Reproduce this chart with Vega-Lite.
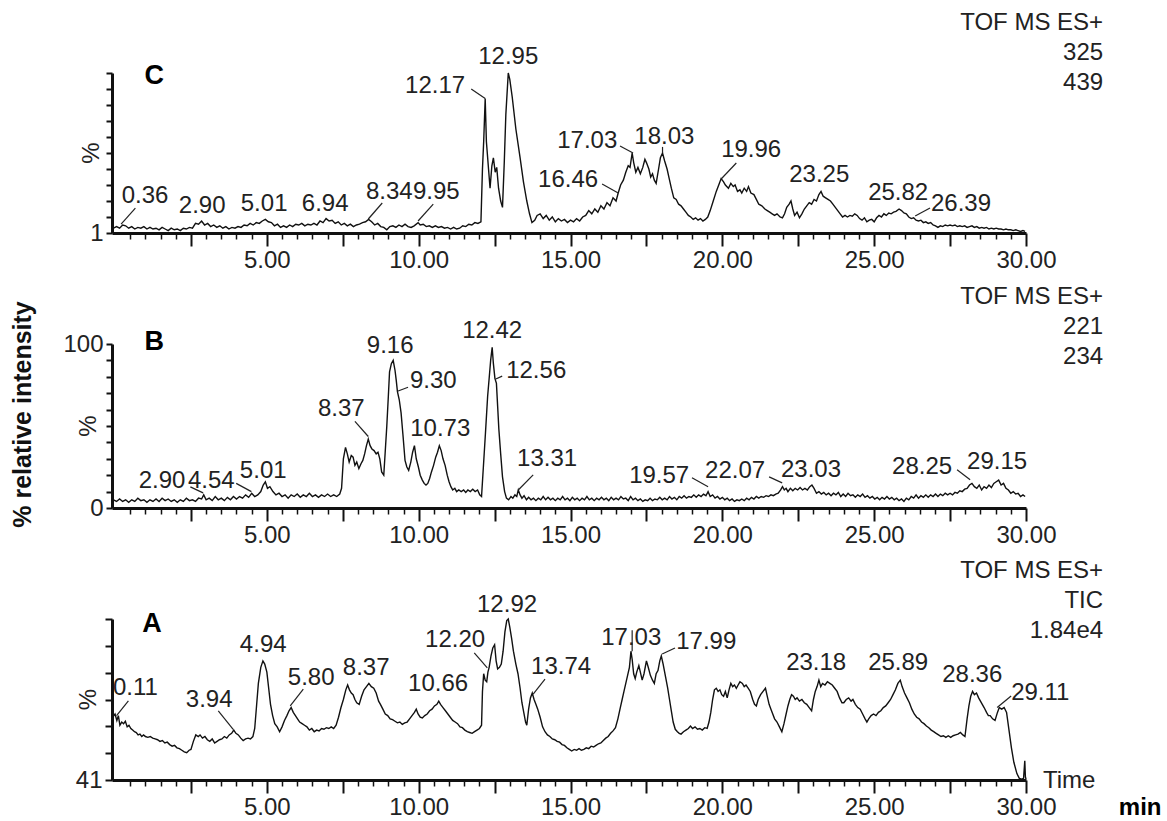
{
  "$schema": "https://vega.github.io/schema/vega-lite/v6.json",
  "description": "Chromatograms C, B, A (TOF MS ES+), % relative intensity vs time (min)",
  "background": "white",
  "padding": {"left": 10, "top": 11, "right": 0, "bottom": 0},
  "datasets": {
    "C": [
      {"t":-0.05,"v":3},{"t":0.05,"v":4},{"t":0.15,"v":3},{"t":0.25,"v":5},{"t":0.35,"v":4.5},{"t":0.45,"v":3},{"t":0.55,"v":4},{"t":0.65,"v":2.5},{"t":0.75,"v":3.5},{"t":0.85,"v":3},{"t":0.95,"v":4},{"t":1.05,"v":2.5},{"t":1.15,"v":3.5},{"t":1.25,"v":2.5},{"t":1.35,"v":3},{"t":1.45,"v":2},{"t":1.55,"v":3.5},{"t":1.65,"v":2.5},{"t":1.75,"v":1.5},{"t":1.85,"v":3},{"t":1.95,"v":2},{"t":2.05,"v":2.5},{"t":2.15,"v":1.5},{"t":2.25,"v":3},{"t":2.35,"v":2.5},{"t":2.45,"v":3.5},{"t":2.55,"v":3},{"t":2.65,"v":6},{"t":2.75,"v":5.5},{"t":2.85,"v":7.5},{"t":2.95,"v":5},{"t":3.05,"v":6},{"t":3.15,"v":4},{"t":3.25,"v":5},{"t":3.35,"v":3.5},{"t":3.45,"v":4.5},{"t":3.55,"v":3},{"t":3.65,"v":4},{"t":3.75,"v":2.5},{"t":3.85,"v":3.5},{"t":3.95,"v":3},{"t":4.05,"v":4},{"t":4.15,"v":3.5},{"t":4.25,"v":5},{"t":4.35,"v":4.5},{"t":4.45,"v":6},{"t":4.55,"v":5},{"t":4.65,"v":6.5},{"t":4.75,"v":6},{"t":4.85,"v":7.5},{"t":4.95,"v":8.5},{"t":5.05,"v":7},{"t":5.15,"v":6.5},{"t":5.25,"v":4.5},{"t":5.35,"v":5.5},{"t":5.45,"v":3.5},{"t":5.55,"v":4.5},{"t":5.65,"v":3.5},{"t":5.75,"v":5},{"t":5.85,"v":4},{"t":5.95,"v":5.5},{"t":6.05,"v":5},{"t":6.15,"v":6},{"t":6.25,"v":4.5},{"t":6.35,"v":5.5},{"t":6.45,"v":5},{"t":6.55,"v":6},{"t":6.65,"v":5},{"t":6.75,"v":7.5},{"t":6.85,"v":6.5},{"t":6.95,"v":9},{"t":7.05,"v":7.5},{"t":7.15,"v":8},{"t":7.25,"v":6},{"t":7.35,"v":7},{"t":7.45,"v":5},{"t":7.55,"v":6},{"t":7.65,"v":4.5},{"t":7.75,"v":5.5},{"t":7.85,"v":4},{"t":7.95,"v":5},{"t":8.05,"v":5.5},{"t":8.15,"v":6.5},{"t":8.25,"v":7},{"t":8.35,"v":8.5},{"t":8.45,"v":7},{"t":8.55,"v":5},{"t":8.65,"v":6},{"t":8.75,"v":4},{"t":8.85,"v":3.5},{"t":8.95,"v":2},{"t":9.05,"v":4},{"t":9.15,"v":4.5},{"t":9.25,"v":3.5},{"t":9.35,"v":5},{"t":9.45,"v":4},{"t":9.55,"v":5.5},{"t":9.65,"v":4},{"t":9.75,"v":3.5},{"t":9.85,"v":4.5},{"t":9.98,"v":6.5},{"t":10.05,"v":5},{"t":10.15,"v":5.5},{"t":10.25,"v":4},{"t":10.35,"v":4.5},{"t":10.45,"v":3.5},{"t":10.55,"v":4.5},{"t":10.65,"v":3.5},{"t":10.75,"v":4},{"t":10.85,"v":3},{"t":10.95,"v":3.5},{"t":11.05,"v":2.5},{"t":11.15,"v":3.5},{"t":11.25,"v":2.5},{"t":11.35,"v":3},{"t":11.45,"v":4.5},{"t":11.55,"v":4},{"t":11.65,"v":5.5},{"t":11.75,"v":5},{"t":11.85,"v":6.5},{"t":11.95,"v":6},{"t":12.05,"v":7},{"t":12.1,"v":40},{"t":12.14,"v":57},{"t":12.19,"v":84},{"t":12.23,"v":57},{"t":12.3,"v":40},{"t":12.35,"v":28},{"t":12.41,"v":42},{"t":12.46,"v":47},{"t":12.52,"v":38},{"t":12.57,"v":41},{"t":12.63,"v":28},{"t":12.7,"v":20},{"t":12.76,"v":16},{"t":12.82,"v":45},{"t":12.87,"v":74},{"t":12.95,"v":100},{"t":13.0,"v":96},{"t":13.08,"v":85},{"t":13.2,"v":65},{"t":13.34,"v":47},{"t":13.45,"v":32},{"t":13.56,"v":20},{"t":13.65,"v":12},{"t":13.73,"v":6.5},{"t":13.82,"v":8},{"t":13.9,"v":11},{"t":14.0,"v":12},{"t":14.1,"v":9},{"t":14.2,"v":11},{"t":14.3,"v":8},{"t":14.4,"v":10},{"t":14.5,"v":7},{"t":14.6,"v":9},{"t":14.7,"v":7.5},{"t":14.8,"v":8.5},{"t":14.9,"v":6.5},{"t":15.0,"v":8},{"t":15.1,"v":7},{"t":15.2,"v":9},{"t":15.3,"v":7.5},{"t":15.4,"v":10},{"t":15.5,"v":11},{"t":15.6,"v":14},{"t":15.7,"v":12},{"t":15.8,"v":15},{"t":15.9,"v":13},{"t":16.0,"v":17},{"t":16.1,"v":15},{"t":16.2,"v":19},{"t":16.3,"v":17},{"t":16.4,"v":22},{"t":16.5,"v":20},{"t":16.57,"v":25},{"t":16.65,"v":30},{"t":16.74,"v":33},{"t":16.82,"v":38},{"t":16.9,"v":42},{"t":16.96,"v":41},{"t":17.03,"v":50},{"t":17.08,"v":44},{"t":17.15,"v":38},{"t":17.22,"v":41},{"t":17.3,"v":37},{"t":17.38,"v":41},{"t":17.45,"v":46},{"t":17.5,"v":44},{"t":17.58,"v":40},{"t":17.64,"v":35},{"t":17.7,"v":37},{"t":17.76,"v":33},{"t":17.82,"v":31},{"t":17.9,"v":40},{"t":17.96,"v":47},{"t":18.03,"v":50},{"t":18.1,"v":45},{"t":18.18,"v":40},{"t":18.25,"v":34},{"t":18.32,"v":28},{"t":18.4,"v":22},{"t":18.48,"v":21},{"t":18.56,"v":18},{"t":18.64,"v":17},{"t":18.72,"v":15},{"t":18.8,"v":13},{"t":18.88,"v":11},{"t":18.96,"v":10},{"t":19.04,"v":8.5},{"t":19.12,"v":9.5},{"t":19.2,"v":8},{"t":19.28,"v":9},{"t":19.36,"v":7.5},{"t":19.44,"v":8.5},{"t":19.52,"v":10},{"t":19.6,"v":14},{"t":19.7,"v":20},{"t":19.8,"v":26},{"t":19.9,"v":31},{"t":19.96,"v":34},{"t":20.04,"v":32},{"t":20.1,"v":30},{"t":20.2,"v":28},{"t":20.28,"v":31},{"t":20.36,"v":29},{"t":20.42,"v":30},{"t":20.5,"v":26},{"t":20.58,"v":27},{"t":20.64,"v":25},{"t":20.72,"v":28},{"t":20.8,"v":26},{"t":20.86,"v":29},{"t":20.94,"v":25},{"t":21.04,"v":24},{"t":21.12,"v":21},{"t":21.2,"v":18},{"t":21.3,"v":17},{"t":21.4,"v":15},{"t":21.48,"v":14},{"t":21.56,"v":13},{"t":21.64,"v":12},{"t":21.72,"v":11},{"t":21.8,"v":12},{"t":21.9,"v":10},{"t":21.98,"v":9.5},{"t":22.05,"v":12},{"t":22.12,"v":16},{"t":22.2,"v":18},{"t":22.26,"v":20},{"t":22.32,"v":15},{"t":22.38,"v":11},{"t":22.46,"v":13},{"t":22.54,"v":9.5},{"t":22.62,"v":12},{"t":22.7,"v":15},{"t":22.78,"v":17},{"t":22.86,"v":19},{"t":22.94,"v":18},{"t":23.02,"v":21},{"t":23.1,"v":20},{"t":23.18,"v":24},{"t":23.25,"v":26},{"t":23.32,"v":23},{"t":23.4,"v":22},{"t":23.48,"v":21},{"t":23.56,"v":20},{"t":23.64,"v":18},{"t":23.72,"v":16},{"t":23.8,"v":14},{"t":23.88,"v":12},{"t":23.96,"v":10},{"t":24.04,"v":11},{"t":24.12,"v":10},{"t":24.2,"v":11},{"t":24.28,"v":10.5},{"t":24.36,"v":12},{"t":24.44,"v":11},{"t":24.52,"v":9},{"t":24.6,"v":8},{"t":24.68,"v":9.5},{"t":24.76,"v":7},{"t":24.84,"v":8},{"t":24.92,"v":8.5},{"t":25.0,"v":7},{"t":25.08,"v":9.5},{"t":25.16,"v":11},{"t":25.24,"v":10},{"t":25.32,"v":12},{"t":25.4,"v":11},{"t":25.48,"v":12.5},{"t":25.56,"v":12},{"t":25.64,"v":13},{"t":25.72,"v":13.5},{"t":25.82,"v":15},{"t":25.9,"v":14},{"t":25.98,"v":12.5},{"t":26.06,"v":12},{"t":26.14,"v":10},{"t":26.22,"v":9},{"t":26.3,"v":9.5},{"t":26.38,"v":8},{"t":26.46,"v":7.5},{"t":26.54,"v":8},{"t":26.62,"v":6.5},{"t":26.7,"v":7},{"t":26.78,"v":6},{"t":26.86,"v":6.5},{"t":26.94,"v":5},{"t":27.02,"v":4.5},{"t":27.1,"v":3.5},{"t":27.18,"v":4.5},{"t":27.26,"v":4},{"t":27.34,"v":5},{"t":27.42,"v":4.5},{"t":27.5,"v":5},{"t":27.58,"v":4.5},{"t":27.66,"v":5},{"t":27.74,"v":4},{"t":27.82,"v":4.5},{"t":27.9,"v":4},{"t":27.98,"v":4.5},{"t":28.06,"v":3.5},{"t":28.14,"v":4},{"t":28.22,"v":4.5},{"t":28.3,"v":3.5},{"t":28.38,"v":4},{"t":28.46,"v":3},{"t":28.54,"v":3.5},{"t":28.62,"v":3},{"t":28.7,"v":3.5},{"t":28.78,"v":2.5},{"t":28.86,"v":3},{"t":28.94,"v":2.5},{"t":29.02,"v":3},{"t":29.1,"v":2.5},{"t":29.18,"v":2.5},{"t":29.26,"v":2},{"t":29.34,"v":2.5},{"t":29.42,"v":2},{"t":29.5,"v":2},{"t":29.58,"v":1.5},{"t":29.66,"v":2},{"t":29.74,"v":1.5},{"t":29.82,"v":1},{"t":29.9,"v":1.5},{"t":29.97,"v":1}
    ],
    "B": [
      {"t":-0.05,"v":5},{"t":0.05,"v":4},{"t":0.15,"v":5.5},{"t":0.25,"v":4},{"t":0.35,"v":5},{"t":0.45,"v":3.5},{"t":0.55,"v":5},{"t":0.65,"v":4},{"t":0.75,"v":6},{"t":0.85,"v":4.5},{"t":0.95,"v":5},{"t":1.05,"v":3.5},{"t":1.15,"v":5},{"t":1.25,"v":4},{"t":1.35,"v":5.5},{"t":1.45,"v":4},{"t":1.55,"v":6},{"t":1.65,"v":4.5},{"t":1.75,"v":5.5},{"t":1.85,"v":4},{"t":1.95,"v":5},{"t":2.05,"v":3.5},{"t":2.15,"v":5},{"t":2.25,"v":4},{"t":2.35,"v":6},{"t":2.45,"v":4.5},{"t":2.55,"v":5},{"t":2.65,"v":4},{"t":2.75,"v":6},{"t":2.85,"v":5.5},{"t":2.92,"v":8},{"t":3.0,"v":5},{"t":3.1,"v":6},{"t":3.2,"v":4.5},{"t":3.3,"v":7},{"t":3.4,"v":5},{"t":3.5,"v":6},{"t":3.6,"v":4.5},{"t":3.7,"v":6.5},{"t":3.8,"v":5},{"t":3.9,"v":7},{"t":4.0,"v":5.5},{"t":4.1,"v":7},{"t":4.2,"v":6},{"t":4.3,"v":8},{"t":4.4,"v":6.5},{"t":4.5,"v":9},{"t":4.6,"v":7},{"t":4.7,"v":8},{"t":4.8,"v":10},{"t":4.88,"v":14},{"t":4.95,"v":16},{"t":5.02,"v":12},{"t":5.1,"v":13},{"t":5.2,"v":10},{"t":5.3,"v":8},{"t":5.4,"v":9},{"t":5.5,"v":7},{"t":5.6,"v":8},{"t":5.7,"v":6},{"t":5.8,"v":8},{"t":5.9,"v":7},{"t":6.0,"v":8.5},{"t":6.1,"v":6.5},{"t":6.2,"v":8},{"t":6.3,"v":7},{"t":6.4,"v":9},{"t":6.5,"v":7},{"t":6.6,"v":8},{"t":6.7,"v":6.5},{"t":6.8,"v":8},{"t":6.9,"v":7},{"t":7.0,"v":8.5},{"t":7.1,"v":7},{"t":7.2,"v":8},{"t":7.3,"v":7},{"t":7.4,"v":8.5},{"t":7.46,"v":12},{"t":7.52,"v":30},{"t":7.59,"v":37},{"t":7.65,"v":33},{"t":7.71,"v":28},{"t":7.78,"v":32},{"t":7.84,"v":31},{"t":7.9,"v":26},{"t":7.96,"v":28},{"t":8.03,"v":24},{"t":8.1,"v":27},{"t":8.16,"v":29},{"t":8.22,"v":33},{"t":8.28,"v":38},{"t":8.34,"v":42},{"t":8.4,"v":38},{"t":8.46,"v":36},{"t":8.53,"v":35},{"t":8.6,"v":33},{"t":8.66,"v":34},{"t":8.72,"v":30},{"t":8.78,"v":22},{"t":8.85,"v":20},{"t":8.9,"v":35},{"t":8.95,"v":50},{"t":9.0,"v":68},{"t":9.04,"v":83},{"t":9.1,"v":88},{"t":9.16,"v":90},{"t":9.22,"v":84},{"t":9.26,"v":78},{"t":9.3,"v":71},{"t":9.36,"v":66},{"t":9.42,"v":58},{"t":9.48,"v":45},{"t":9.55,"v":29},{"t":9.61,"v":25},{"t":9.67,"v":23},{"t":9.74,"v":28},{"t":9.8,"v":34},{"t":9.86,"v":38},{"t":9.92,"v":30},{"t":9.99,"v":25},{"t":10.05,"v":20},{"t":10.12,"v":17},{"t":10.18,"v":15},{"t":10.24,"v":14},{"t":10.3,"v":15},{"t":10.36,"v":18},{"t":10.42,"v":22},{"t":10.49,"v":26},{"t":10.56,"v":31},{"t":10.62,"v":34},{"t":10.68,"v":38},{"t":10.74,"v":35},{"t":10.8,"v":30},{"t":10.87,"v":26},{"t":10.94,"v":20},{"t":11.0,"v":16},{"t":11.06,"v":13},{"t":11.12,"v":11},{"t":11.19,"v":12},{"t":11.25,"v":10},{"t":11.32,"v":11},{"t":11.4,"v":10},{"t":11.48,"v":11},{"t":11.55,"v":9.5},{"t":11.62,"v":11},{"t":11.7,"v":10},{"t":11.78,"v":11.5},{"t":11.86,"v":10},{"t":11.94,"v":11},{"t":12.01,"v":8},{"t":12.07,"v":7},{"t":12.13,"v":25},{"t":12.2,"v":46},{"t":12.27,"v":68},{"t":12.32,"v":79},{"t":12.37,"v":90},{"t":12.42,"v":98},{"t":12.46,"v":88},{"t":12.51,"v":79},{"t":12.56,"v":76},{"t":12.6,"v":62},{"t":12.64,"v":48},{"t":12.7,"v":33},{"t":12.76,"v":19},{"t":12.83,"v":10},{"t":12.89,"v":6},{"t":12.96,"v":5},{"t":13.04,"v":7},{"t":13.1,"v":6},{"t":13.17,"v":8},{"t":13.23,"v":7},{"t":13.28,"v":11},{"t":13.34,"v":8},{"t":13.4,"v":6},{"t":13.47,"v":7.5},{"t":13.55,"v":5},{"t":13.62,"v":6.5},{"t":13.7,"v":5},{"t":13.78,"v":6},{"t":13.86,"v":4.5},{"t":13.94,"v":6},{"t":14.02,"v":5},{"t":14.1,"v":7},{"t":14.18,"v":5},{"t":14.26,"v":6.5},{"t":14.34,"v":5},{"t":14.42,"v":6},{"t":14.5,"v":4.5},{"t":14.58,"v":6},{"t":14.66,"v":5},{"t":14.74,"v":7},{"t":14.82,"v":5},{"t":14.9,"v":6},{"t":14.98,"v":4.5},{"t":15.06,"v":6.5},{"t":15.14,"v":5},{"t":15.22,"v":6},{"t":15.3,"v":4.5},{"t":15.38,"v":6},{"t":15.46,"v":5},{"t":15.54,"v":7},{"t":15.62,"v":5},{"t":15.7,"v":6},{"t":15.78,"v":4.5},{"t":15.86,"v":6},{"t":15.94,"v":5},{"t":16.02,"v":6.5},{"t":16.1,"v":5},{"t":16.18,"v":6},{"t":16.26,"v":4.5},{"t":16.34,"v":6.5},{"t":16.42,"v":5},{"t":16.5,"v":6},{"t":16.58,"v":5},{"t":16.66,"v":7},{"t":16.74,"v":5.5},{"t":16.82,"v":6},{"t":16.9,"v":4.5},{"t":16.98,"v":7},{"t":17.06,"v":5},{"t":17.14,"v":6},{"t":17.22,"v":4.5},{"t":17.3,"v":5.5},{"t":17.38,"v":4},{"t":17.46,"v":5},{"t":17.54,"v":4.5},{"t":17.62,"v":6},{"t":17.7,"v":4.5},{"t":17.78,"v":5.5},{"t":17.86,"v":5},{"t":17.94,"v":6.5},{"t":18.02,"v":5},{"t":18.1,"v":6},{"t":18.18,"v":5},{"t":18.26,"v":7},{"t":18.34,"v":5.5},{"t":18.42,"v":6.5},{"t":18.5,"v":5},{"t":18.58,"v":7},{"t":18.66,"v":6},{"t":18.74,"v":7.5},{"t":18.82,"v":6},{"t":18.9,"v":7},{"t":18.98,"v":6.5},{"t":19.06,"v":8},{"t":19.14,"v":6.5},{"t":19.22,"v":8},{"t":19.3,"v":7},{"t":19.38,"v":8.5},{"t":19.46,"v":7.5},{"t":19.53,"v":10},{"t":19.6,"v":7},{"t":19.68,"v":8},{"t":19.76,"v":6},{"t":19.84,"v":7},{"t":19.92,"v":5.5},{"t":20.0,"v":6.5},{"t":20.08,"v":5},{"t":20.16,"v":6},{"t":20.24,"v":4.5},{"t":20.32,"v":5.5},{"t":20.4,"v":4},{"t":20.48,"v":5},{"t":20.56,"v":4.5},{"t":20.64,"v":5.5},{"t":20.72,"v":4.5},{"t":20.8,"v":6},{"t":20.88,"v":5},{"t":20.96,"v":6.5},{"t":21.04,"v":5.5},{"t":21.12,"v":7},{"t":21.2,"v":6},{"t":21.28,"v":7},{"t":21.36,"v":6.5},{"t":21.44,"v":7.5},{"t":21.52,"v":7},{"t":21.6,"v":8},{"t":21.68,"v":7.5},{"t":21.76,"v":8.5},{"t":21.84,"v":9},{"t":21.92,"v":11},{"t":21.98,"v":13},{"t":22.04,"v":11},{"t":22.1,"v":12},{"t":22.16,"v":10},{"t":22.24,"v":12},{"t":22.32,"v":10.5},{"t":22.4,"v":12},{"t":22.48,"v":11},{"t":22.56,"v":12.5},{"t":22.64,"v":11},{"t":22.72,"v":12},{"t":22.8,"v":11},{"t":22.88,"v":13},{"t":22.95,"v":14},{"t":23.02,"v":12},{"t":23.1,"v":9},{"t":23.18,"v":10},{"t":23.26,"v":8.5},{"t":23.34,"v":9.5},{"t":23.42,"v":8},{"t":23.5,"v":9},{"t":23.58,"v":7.5},{"t":23.66,"v":9},{"t":23.74,"v":8},{"t":23.82,"v":9.5},{"t":23.9,"v":7},{"t":23.98,"v":8.5},{"t":24.06,"v":7},{"t":24.14,"v":9},{"t":24.22,"v":7.5},{"t":24.3,"v":8},{"t":24.38,"v":6.5},{"t":24.46,"v":8},{"t":24.54,"v":7},{"t":24.62,"v":8.5},{"t":24.7,"v":6.5},{"t":24.78,"v":7.5},{"t":24.86,"v":6},{"t":24.94,"v":7},{"t":25.02,"v":5.5},{"t":25.1,"v":6.5},{"t":25.18,"v":5},{"t":25.26,"v":6.5},{"t":25.34,"v":5.5},{"t":25.42,"v":7},{"t":25.5,"v":5.5},{"t":25.58,"v":6.5},{"t":25.66,"v":5},{"t":25.74,"v":6},{"t":25.82,"v":4.5},{"t":25.9,"v":5.5},{"t":25.98,"v":4},{"t":26.06,"v":6},{"t":26.14,"v":5},{"t":26.22,"v":7},{"t":26.3,"v":6},{"t":26.38,"v":8},{"t":26.46,"v":6},{"t":26.54,"v":7.5},{"t":26.62,"v":6.5},{"t":26.7,"v":8},{"t":26.78,"v":6.5},{"t":26.86,"v":8},{"t":26.94,"v":7},{"t":27.02,"v":8.5},{"t":27.1,"v":7},{"t":27.18,"v":8.5},{"t":27.26,"v":7.5},{"t":27.34,"v":9},{"t":27.42,"v":8},{"t":27.5,"v":9},{"t":27.58,"v":8},{"t":27.66,"v":9.5},{"t":27.74,"v":9},{"t":27.82,"v":10.5},{"t":27.9,"v":10},{"t":27.98,"v":11.5},{"t":28.06,"v":12},{"t":28.14,"v":14},{"t":28.22,"v":15},{"t":28.3,"v":13},{"t":28.38,"v":12},{"t":28.46,"v":14},{"t":28.54,"v":11},{"t":28.62,"v":13},{"t":28.7,"v":12},{"t":28.78,"v":14},{"t":28.86,"v":12.5},{"t":28.94,"v":15},{"t":29.02,"v":16},{"t":29.1,"v":17},{"t":29.18,"v":14},{"t":29.26,"v":15},{"t":29.34,"v":12},{"t":29.42,"v":11},{"t":29.5,"v":9},{"t":29.58,"v":10},{"t":29.66,"v":8.5},{"t":29.74,"v":9},{"t":29.82,"v":7},{"t":29.9,"v":8},{"t":29.97,"v":7}
    ],
    "A": [
      {"t":-0.08,"v":39},{"t":0.0,"v":41},{"t":0.06,"v":37},{"t":0.11,"v":40},{"t":0.16,"v":34},{"t":0.22,"v":36},{"t":0.28,"v":35},{"t":0.34,"v":36.5},{"t":0.4,"v":33},{"t":0.46,"v":34},{"t":0.52,"v":32},{"t":0.58,"v":31},{"t":0.64,"v":30},{"t":0.7,"v":29.5},{"t":0.76,"v":28},{"t":0.82,"v":28.5},{"t":0.88,"v":27},{"t":0.94,"v":28},{"t":1.0,"v":27},{"t":1.08,"v":26.5},{"t":1.16,"v":27},{"t":1.24,"v":26},{"t":1.32,"v":25.5},{"t":1.4,"v":25},{"t":1.48,"v":24},{"t":1.56,"v":24.5},{"t":1.64,"v":23},{"t":1.72,"v":23.5},{"t":1.8,"v":22},{"t":1.88,"v":21},{"t":1.96,"v":21.5},{"t":2.04,"v":20},{"t":2.12,"v":19.5},{"t":2.2,"v":18.5},{"t":2.28,"v":17.5},{"t":2.36,"v":17},{"t":2.44,"v":18.5},{"t":2.5,"v":19},{"t":2.58,"v":24},{"t":2.66,"v":28},{"t":2.74,"v":27},{"t":2.8,"v":28},{"t":2.88,"v":26},{"t":2.96,"v":27},{"t":3.04,"v":25},{"t":3.12,"v":24},{"t":3.2,"v":25.5},{"t":3.28,"v":23},{"t":3.36,"v":24},{"t":3.44,"v":25},{"t":3.52,"v":25.5},{"t":3.6,"v":27},{"t":3.68,"v":26},{"t":3.76,"v":28},{"t":3.84,"v":29},{"t":3.91,"v":31},{"t":3.98,"v":29},{"t":4.06,"v":28},{"t":4.14,"v":26},{"t":4.22,"v":24.5},{"t":4.3,"v":25.5},{"t":4.38,"v":26},{"t":4.46,"v":25.5},{"t":4.54,"v":27},{"t":4.6,"v":32},{"t":4.66,"v":46},{"t":4.72,"v":60},{"t":4.8,"v":70},{"t":4.87,"v":74},{"t":4.93,"v":72},{"t":5.0,"v":67},{"t":5.06,"v":57},{"t":5.12,"v":47},{"t":5.19,"v":40},{"t":5.26,"v":35},{"t":5.34,"v":33},{"t":5.42,"v":30},{"t":5.5,"v":33},{"t":5.58,"v":37},{"t":5.66,"v":40},{"t":5.73,"v":43},{"t":5.8,"v":45},{"t":5.87,"v":42},{"t":5.94,"v":40},{"t":6.01,"v":38},{"t":6.08,"v":36},{"t":6.16,"v":35},{"t":6.24,"v":34},{"t":6.32,"v":33},{"t":6.4,"v":31},{"t":6.48,"v":32},{"t":6.56,"v":30},{"t":6.64,"v":31},{"t":6.72,"v":30.5},{"t":6.8,"v":32},{"t":6.88,"v":31.5},{"t":6.96,"v":32.5},{"t":7.04,"v":32},{"t":7.12,"v":33},{"t":7.2,"v":32},{"t":7.28,"v":34},{"t":7.36,"v":39},{"t":7.44,"v":45},{"t":7.52,"v":50},{"t":7.6,"v":56},{"t":7.66,"v":59},{"t":7.72,"v":56},{"t":7.78,"v":54},{"t":7.84,"v":53},{"t":7.9,"v":50},{"t":7.96,"v":48},{"t":8.04,"v":47},{"t":8.12,"v":52},{"t":8.2,"v":56},{"t":8.28,"v":58},{"t":8.36,"v":60},{"t":8.44,"v":58},{"t":8.52,"v":57},{"t":8.6,"v":54},{"t":8.68,"v":49},{"t":8.74,"v":47},{"t":8.82,"v":44},{"t":8.9,"v":41},{"t":8.98,"v":40},{"t":9.06,"v":38},{"t":9.14,"v":37.5},{"t":9.22,"v":36.5},{"t":9.3,"v":35.5},{"t":9.38,"v":36},{"t":9.46,"v":34.5},{"t":9.54,"v":35.5},{"t":9.62,"v":36},{"t":9.7,"v":38},{"t":9.78,"v":40},{"t":9.86,"v":42},{"t":9.92,"v":44},{"t":9.98,"v":41},{"t":10.05,"v":39},{"t":10.12,"v":38.5},{"t":10.2,"v":40},{"t":10.28,"v":41},{"t":10.36,"v":43},{"t":10.44,"v":44},{"t":10.52,"v":46},{"t":10.6,"v":47},{"t":10.66,"v":49},{"t":10.72,"v":47},{"t":10.8,"v":45},{"t":10.88,"v":43},{"t":10.96,"v":41},{"t":11.04,"v":39},{"t":11.12,"v":37},{"t":11.2,"v":36},{"t":11.28,"v":35},{"t":11.36,"v":33},{"t":11.44,"v":32.5},{"t":11.52,"v":31},{"t":11.6,"v":30},{"t":11.68,"v":29.5},{"t":11.76,"v":29},{"t":11.84,"v":30},{"t":11.92,"v":31},{"t":12.0,"v":32},{"t":12.07,"v":34},{"t":12.1,"v":55},{"t":12.14,"v":66},{"t":12.19,"v":62},{"t":12.24,"v":61},{"t":12.28,"v":67},{"t":12.32,"v":70},{"t":12.38,"v":77},{"t":12.44,"v":82},{"t":12.5,"v":84},{"t":12.55,"v":74},{"t":12.6,"v":69},{"t":12.66,"v":70},{"t":12.72,"v":72},{"t":12.78,"v":80},{"t":12.84,"v":92},{"t":12.9,"v":99},{"t":12.95,"v":100},{"t":13.0,"v":95},{"t":13.06,"v":88},{"t":13.12,"v":80},{"t":13.2,"v":72},{"t":13.27,"v":66},{"t":13.34,"v":57},{"t":13.4,"v":48},{"t":13.46,"v":42},{"t":13.52,"v":36},{"t":13.56,"v":34},{"t":13.62,"v":44},{"t":13.68,"v":51},{"t":13.74,"v":54},{"t":13.8,"v":50},{"t":13.86,"v":47},{"t":13.92,"v":44},{"t":14.0,"v":39},{"t":14.08,"v":33},{"t":14.16,"v":30},{"t":14.24,"v":28},{"t":14.32,"v":27},{"t":14.4,"v":25.5},{"t":14.48,"v":25},{"t":14.56,"v":24},{"t":14.64,"v":23.5},{"t":14.72,"v":22},{"t":14.8,"v":21.5},{"t":14.88,"v":20},{"t":14.96,"v":19},{"t":15.04,"v":18},{"t":15.12,"v":19},{"t":15.2,"v":18.5},{"t":15.28,"v":19.5},{"t":15.36,"v":18.5},{"t":15.44,"v":19},{"t":15.52,"v":20},{"t":15.6,"v":19.5},{"t":15.68,"v":21},{"t":15.76,"v":20.5},{"t":15.84,"v":21.5},{"t":15.92,"v":22.5},{"t":16.0,"v":23},{"t":16.08,"v":24.5},{"t":16.16,"v":26},{"t":16.24,"v":27},{"t":16.32,"v":29},{"t":16.4,"v":30.5},{"t":16.48,"v":32.5},{"t":16.56,"v":38},{"t":16.64,"v":45},{"t":16.7,"v":50},{"t":16.76,"v":55},{"t":16.82,"v":60},{"t":16.88,"v":65},{"t":16.94,"v":70},{"t":16.99,"v":80},{"t":17.03,"v":75},{"t":17.08,"v":66},{"t":17.13,"v":63},{"t":17.18,"v":67},{"t":17.25,"v":71},{"t":17.3,"v":67},{"t":17.36,"v":62},{"t":17.42,"v":66},{"t":17.5,"v":74},{"t":17.56,"v":70},{"t":17.63,"v":65},{"t":17.7,"v":62},{"t":17.76,"v":60},{"t":17.82,"v":66},{"t":17.88,"v":68},{"t":17.94,"v":74},{"t":17.99,"v":77},{"t":18.05,"v":72},{"t":18.13,"v":64},{"t":18.2,"v":57},{"t":18.26,"v":50},{"t":18.32,"v":43},{"t":18.38,"v":36},{"t":18.45,"v":31.5},{"t":18.52,"v":30},{"t":18.58,"v":29},{"t":18.64,"v":28.5},{"t":18.72,"v":30},{"t":18.8,"v":31},{"t":18.88,"v":32},{"t":18.95,"v":33.5},{"t":19.02,"v":32},{"t":19.1,"v":33},{"t":19.18,"v":31.5},{"t":19.26,"v":32},{"t":19.34,"v":31},{"t":19.42,"v":32.5},{"t":19.5,"v":32},{"t":19.56,"v":36},{"t":19.62,"v":42},{"t":19.68,"v":50},{"t":19.74,"v":56},{"t":19.8,"v":57},{"t":19.86,"v":55},{"t":19.92,"v":56},{"t":19.98,"v":53},{"t":20.04,"v":52},{"t":20.1,"v":55},{"t":20.16,"v":51},{"t":20.22,"v":56},{"t":20.28,"v":60},{"t":20.34,"v":58},{"t":20.4,"v":59},{"t":20.46,"v":57},{"t":20.52,"v":59},{"t":20.58,"v":61},{"t":20.66,"v":60},{"t":20.72,"v":58},{"t":20.78,"v":59},{"t":20.85,"v":57},{"t":20.92,"v":55},{"t":21.0,"v":50},{"t":21.06,"v":47},{"t":21.12,"v":46},{"t":21.18,"v":50},{"t":21.26,"v":53},{"t":21.34,"v":55},{"t":21.42,"v":57},{"t":21.48,"v":52},{"t":21.54,"v":47},{"t":21.6,"v":44},{"t":21.66,"v":41},{"t":21.72,"v":38},{"t":21.8,"v":36},{"t":21.88,"v":33},{"t":21.96,"v":30},{"t":22.03,"v":35},{"t":22.1,"v":41},{"t":22.16,"v":46},{"t":22.22,"v":50},{"t":22.28,"v":53},{"t":22.34,"v":52},{"t":22.4,"v":50},{"t":22.46,"v":51},{"t":22.54,"v":49},{"t":22.62,"v":50},{"t":22.7,"v":48},{"t":22.78,"v":47},{"t":22.86,"v":45},{"t":22.94,"v":43},{"t":23.0,"v":50},{"t":23.06,"v":55},{"t":23.12,"v":58},{"t":23.18,"v":62},{"t":23.24,"v":58},{"t":23.3,"v":60},{"t":23.38,"v":59},{"t":23.46,"v":61},{"t":23.54,"v":60},{"t":23.62,"v":59},{"t":23.7,"v":57},{"t":23.78,"v":55},{"t":23.86,"v":51},{"t":23.94,"v":48},{"t":24.0,"v":48},{"t":24.08,"v":50},{"t":24.16,"v":51},{"t":24.24,"v":49},{"t":24.3,"v":50},{"t":24.38,"v":47},{"t":24.46,"v":45},{"t":24.54,"v":44},{"t":24.62,"v":41},{"t":24.7,"v":38},{"t":24.76,"v":36},{"t":24.82,"v":38},{"t":24.9,"v":40},{"t":24.98,"v":41},{"t":25.06,"v":40},{"t":25.14,"v":42},{"t":25.22,"v":43},{"t":25.3,"v":45},{"t":25.38,"v":46},{"t":25.46,"v":48},{"t":25.54,"v":50},{"t":25.62,"v":53},{"t":25.7,"v":56},{"t":25.78,"v":60},{"t":25.86,"v":62},{"t":25.92,"v":58},{"t":26.0,"v":54},{"t":26.08,"v":51},{"t":26.16,"v":48},{"t":26.24,"v":44},{"t":26.32,"v":41},{"t":26.4,"v":39},{"t":26.48,"v":38},{"t":26.56,"v":36},{"t":26.64,"v":35},{"t":26.72,"v":33.5},{"t":26.8,"v":32.5},{"t":26.88,"v":31},{"t":26.96,"v":30},{"t":27.04,"v":29},{"t":27.12,"v":28},{"t":27.2,"v":27},{"t":27.28,"v":27.5},{"t":27.36,"v":26.5},{"t":27.44,"v":27.5},{"t":27.52,"v":26.5},{"t":27.6,"v":27.5},{"t":27.68,"v":28},{"t":27.76,"v":28.5},{"t":27.84,"v":29.5},{"t":27.92,"v":28},{"t":27.99,"v":27},{"t":28.06,"v":38},{"t":28.12,"v":46},{"t":28.18,"v":52},{"t":28.24,"v":55},{"t":28.3,"v":53},{"t":28.37,"v":54},{"t":28.44,"v":51},{"t":28.5,"v":49},{"t":28.56,"v":47},{"t":28.62,"v":45},{"t":28.7,"v":42},{"t":28.76,"v":40},{"t":28.82,"v":40},{"t":28.9,"v":38},{"t":28.98,"v":37},{"t":29.06,"v":42},{"t":29.12,"v":45},{"t":29.2,"v":44},{"t":29.28,"v":45},{"t":29.36,"v":42},{"t":29.44,"v":31},{"t":29.52,"v":20},{"t":29.6,"v":11},{"t":29.7,"v":4},{"t":29.78,"v":1},{"t":29.86,"v":0.5},{"t":29.92,"v":1},{"t":29.96,"v":12},{"t":29.98,"v":2},{"t":30.0,"v":0.5}
    ],
    "labC": [
      {"label":"0.36","t":0.99,"v":23.1},{"label":"2.90","t":2.87,"v":16.9},{"label":"5.01","t":4.91,"v":18.1},{"label":"6.94","t":6.92,"v":18.1},{"label":"8.34","t":9.03,"v":25.6},{"label":"9.95","t":10.58,"v":25.6},{"label":"12.17","t":10.54,"v":91.9},{"label":"12.95","t":12.95,"v":110},{"label":"16.46","t":14.92,"v":33.1},{"label":"17.03","t":15.55,"v":57.5},{"label":"18.03","t":18.09,"v":60},{"label":"19.96","t":20.95,"v":51.9},{"label":"23.25","t":23.19,"v":36.3},{"label":"25.82","t":25.79,"v":25},{"label":"26.39","t":27.86,"v":18.1}
    ],
    "ldC": [
      {"t":0.2,"v":5.6,"t2":0.67,"v2":15.6},{"t":8.34,"v":8.75,"t2":8.8,"v2":18.75},{"t":9.98,"v":7.5,"t2":10.48,"v2":18.1},{"t":12.19,"v":84,"t2":11.73,"v2":90},{"t":16.57,"v":25,"t2":16.04,"v2":30.6},{"t":17.06,"v":50,"t2":16.63,"v2":54.4},{"t":18.03,"v":50,"t2":18.03,"v2":53.8},{"t":19.96,"v":33.75,"t2":20.46,"v2":43.75},{"t":26.35,"v":10.6,"t2":26.84,"v2":15.6}
    ],
    "labB": [
      {"label":"2.90","t":1.55,"v":16.6},{"label":"4.54","t":3.17,"v":16.6},{"label":"5.01","t":4.88,"v":22.7},{"label":"8.37","t":7.45,"v":60.1},{"label":"9.16","t":9.06,"v":98.8},{"label":"9.30","t":10.48,"v":77.3},{"label":"10.73","t":10.71,"v":47.9},{"label":"12.42","t":12.42,"v":108},{"label":"12.56","t":13.87,"v":83.4},{"label":"13.31","t":14.23,"v":30},{"label":"19.57","t":17.92,"v":19.6},{"label":"22.07","t":20.42,"v":22.7},{"label":"23.03","t":22.92,"v":23.3},{"label":"28.25","t":26.58,"v":25.2},{"label":"29.15","t":29.05,"v":28.2}
    ],
    "ldB": [
      {"t":2.9,"v":9.2,"t2":2.48,"v2":12.9},{"t":4.49,"v":10,"t2":3.99,"v2":15},{"t":8.34,"v":43.6,"t2":7.9,"v2":52.8},{"t":9.3,"v":71.2,"t2":9.65,"v2":73.6},{"t":12.52,"v":78.5,"t2":12.75,"v2":80.4},{"t":13.28,"v":11,"t2":13.77,"v2":20.2},{"t":19.53,"v":12.9,"t2":19.0,"v2":18.4},{"t":21.97,"v":15.3,"t2":21.54,"v2":19},{"t":28.16,"v":17.2,"t2":27.73,"v2":23.3}
    ],
    "labA": [
      {"label":"0.11","t":0.67,"v":57.1},{"label":"3.94","t":3.1,"v":49.7},{"label":"4.94","t":4.88,"v":83.9},{"label":"5.80","t":6.46,"v":63.4},{"label":"8.37","t":8.27,"v":69.6},{"label":"10.66","t":10.64,"v":59.6},{"label":"12.20","t":11.2,"v":86.9},{"label":"12.92","t":12.91,"v":108.7},{"label":"13.74","t":14.69,"v":70.2},{"label":"17.03","t":17.0,"v":88.2},{"label":"17.99","t":19.47,"v":85.7},{"label":"23.18","t":23.09,"v":72.7},{"label":"25.89","t":25.79,"v":72.7},{"label":"28.36","t":28.23,"v":65.2},{"label":"29.11","t":30.47,"v":54}
    ],
    "ldA": [
      {"t":0.05,"v":40,"t2":0.44,"v2":49.1},{"t":3.89,"v":31.5,"t2":3.4,"v2":42.9},{"t":5.77,"v":46,"t2":6.2,"v2":56.5},{"t":12.26,"v":69.6,"t2":11.83,"v2":78.9},{"t":13.77,"v":53.4,"t2":14.16,"v2":62.7},{"t":17.03,"v":80,"t2":17.03,"v2":93},{"t":18.02,"v":78.3,"t2":18.44,"v2":82},{"t":29.05,"v":45,"t2":29.51,"v2":52.2}
    ]
  },
  "vconcat": [
    {
      "width": 914,
      "height": 160,
      "layer": [
        {
          "data": {"name": "C"},
          "mark": {"type": "line", "color": "#111", "strokeWidth": 1.4},
          "encoding": {
            "x": {"field": "t", "type": "quantitative", "scale": {"domain": [-0.1, 30], "nice": false, "zero": false},
              "axis": {"orient": "bottom", "title": null, "values": [2.5, 5, 7.5, 10, 12.5, 15, 17.5, 20, 22.5, 25, 27.5, 30], "labelExpr": "datum.value % 5 === 0 ? format(datum.value, '.2f') : ''", "tickSize": 13, "labelPadding": 2, "labelOverlap": false, "labelFlush": false, "labelBound": false}},
            "y": {"field": "v", "type": "quantitative", "scale": {"domain": [0, 100], "nice": false},
              "axis": {"orient": "left", "title": null, "values": [0, 10, 20, 30, 40, 50, 60, 70, 80, 90, 100], "labelExpr": "datum.value === 0 ? '1' : ''", "tickSize": 6, "labelPadding": 3, "labelOverlap": false}}
          }
        },
        {
          "data": {"name": "ldC"},
          "mark": {"type": "rule", "color": "#222", "strokeWidth": 1.2},
          "encoding": {
            "x": {"field": "t", "type": "quantitative", "axis": {"orient": "bottom", "title": null, "values": [0.5, 1, 1.5, 2, 3, 3.5, 4, 4.5, 5.5, 6, 6.5, 7, 8, 8.5, 9, 9.5, 10.5, 11, 11.5, 12, 13, 13.5, 14, 14.5, 15.5, 16, 16.5, 17, 18, 18.5, 19, 19.5, 20.5, 21, 21.5, 22, 23, 23.5, 24, 24.5, 25.5, 26, 26.5, 27, 28, 28.5, 29, 29.5], "tickSize": 6, "tickWidth": 1.5, "labels": false, "domain": false}},
            "y": {"field": "v", "type": "quantitative", "axis": null},
            "x2": {"field": "t2"},
            "y2": {"field": "v2"}
          }
        },
        {
          "data": {"name": "labC"},
          "mark": {"type": "text"},
          "encoding": {
            "x": {"field": "t", "type": "quantitative", "axis": null},
            "y": {"field": "v", "type": "quantitative", "axis": null},
            "text": {"field": "label"}
          }
        },
        {
          "data": {"values": [{}]},
          "mark": {"type": "text", "fontSize": 27, "fontWeight": "bold", "color": "#000", "text": "C"},
          "encoding": {"x": {"datum": 1.29, "axis": null}, "y": {"datum": 98, "axis": null}}
        },
        {
          "data": {"values": [{}]},
          "mark": {"type": "text", "angle": 270, "text": "%"},
          "encoding": {"x": {"datum": -0.75, "axis": null}, "y": {"datum": 50, "axis": null}}
        },
        {
          "data": {"values": [{}]},
          "mark": {"type": "text", "align": "right", "lineHeight": 30, "text": ["TOF MS ES+", "325", "439"]},
          "encoding": {"x": {"datum": 32.54, "axis": null}, "y": {"datum": 131, "axis": null}}
        }
      ],
      "resolve": {"axis": {"x": "independent", "y": "independent"}}
    },
    {
      "width": 914,
      "height": 164,
      "layer": [
        {
          "data": {"name": "B"},
          "mark": {"type": "line", "color": "#111", "strokeWidth": 1.4},
          "encoding": {
            "x": {"field": "t", "type": "quantitative", "scale": {"domain": [-0.1, 30], "nice": false, "zero": false},
              "axis": {"orient": "bottom", "title": null, "values": [2.5, 5, 7.5, 10, 12.5, 15, 17.5, 20, 22.5, 25, 27.5, 30], "labelExpr": "datum.value % 5 === 0 ? format(datum.value, '.2f') : ''", "tickSize": 13, "labelPadding": 2, "labelOverlap": false, "labelFlush": false, "labelBound": false}},
            "y": {"field": "v", "type": "quantitative", "scale": {"domain": [0, 100], "nice": false},
              "axis": {"orient": "left", "title": "% relative intensity", "titleFont": "Liberation Sans", "titleFontSize": 25, "titleFontWeight": "bold", "titleColor": "#111", "titleAngle": 270, "titleX": -90, "titleY": 70, "titleAlign": "center", "titleBaseline": "middle",
                "values": [0, 10, 20, 30, 40, 50, 60, 70, 80, 90, 100], "labelExpr": "datum.value === 0 ? '0' : datum.value === 100 ? '100' : ''", "tickSize": 6, "labelPadding": 3, "labelOverlap": false}}
          }
        },
        {
          "data": {"name": "ldB"},
          "mark": {"type": "rule", "color": "#222", "strokeWidth": 1.2},
          "encoding": {
            "x": {"field": "t", "type": "quantitative", "axis": {"orient": "bottom", "title": null, "values": [0.5, 1, 1.5, 2, 3, 3.5, 4, 4.5, 5.5, 6, 6.5, 7, 8, 8.5, 9, 9.5, 10.5, 11, 11.5, 12, 13, 13.5, 14, 14.5, 15.5, 16, 16.5, 17, 18, 18.5, 19, 19.5, 20.5, 21, 21.5, 22, 23, 23.5, 24, 24.5, 25.5, 26, 26.5, 27, 28, 28.5, 29, 29.5], "tickSize": 6, "tickWidth": 1.5, "labels": false, "domain": false}},
            "y": {"field": "v", "type": "quantitative", "axis": null},
            "x2": {"field": "t2"},
            "y2": {"field": "v2"}
          }
        },
        {
          "data": {"name": "labB"},
          "mark": {"type": "text"},
          "encoding": {
            "x": {"field": "t", "type": "quantitative", "axis": null},
            "y": {"field": "v", "type": "quantitative", "axis": null},
            "text": {"field": "label"}
          }
        },
        {
          "data": {"values": [{}]},
          "mark": {"type": "text", "fontSize": 27, "fontWeight": "bold", "color": "#000", "text": "B"},
          "encoding": {"x": {"datum": 1.29, "axis": null}, "y": {"datum": 101, "axis": null}}
        },
        {
          "data": {"values": [{}]},
          "mark": {"type": "text", "angle": 270, "text": "%"},
          "encoding": {"x": {"datum": -0.85, "axis": null}, "y": {"datum": 50, "axis": null}}
        },
        {
          "data": {"values": [{}]},
          "mark": {"type": "text", "align": "right", "lineHeight": 30, "text": ["TOF MS ES+", "221", "234"]},
          "encoding": {"x": {"datum": 32.54, "axis": null}, "y": {"datum": 128.8, "axis": null}}
        }
      ],
      "resolve": {"axis": {"x": "independent", "y": "independent"}}
    },
    {
      "width": 914,
      "height": 161,
      "layer": [
        {
          "data": {"name": "A"},
          "mark": {"type": "line", "color": "#111", "strokeWidth": 1.4},
          "encoding": {
            "x": {"field": "t", "type": "quantitative", "scale": {"domain": [-0.1, 30], "nice": false, "zero": false},
              "axis": {"orient": "bottom", "title": null, "values": [2.5, 5, 7.5, 10, 12.5, 15, 17.5, 20, 22.5, 25, 27.5, 30], "labelExpr": "datum.value % 5 === 0 ? format(datum.value, '.2f') : ''", "tickSize": 13, "labelPadding": 2, "labelOverlap": false, "labelFlush": false, "labelBound": false}},
            "y": {"field": "v", "type": "quantitative", "scale": {"domain": [0, 100], "nice": false},
              "axis": {"orient": "left", "title": null, "values": [0, 16.667, 33.333, 50, 66.667, 83.333, 100], "labelExpr": "datum.value === 0 ? '41' : ''", "tickSize": 7, "labelPadding": 3, "labelOverlap": false}}
          }
        },
        {
          "data": {"name": "ldA"},
          "mark": {"type": "rule", "color": "#222", "strokeWidth": 1.2},
          "encoding": {
            "x": {"field": "t", "type": "quantitative", "axis": {"orient": "bottom", "title": null, "values": [0.5, 1, 1.5, 2, 3, 3.5, 4, 4.5, 5.5, 6, 6.5, 7, 8, 8.5, 9, 9.5, 10.5, 11, 11.5, 12, 13, 13.5, 14, 14.5, 15.5, 16, 16.5, 17, 18, 18.5, 19, 19.5, 20.5, 21, 21.5, 22, 23, 23.5, 24, 24.5, 25.5, 26, 26.5, 27, 28, 28.5, 29, 29.5], "tickSize": 6, "tickWidth": 1.5, "labels": false, "domain": false}},
            "y": {"field": "v", "type": "quantitative", "axis": null},
            "x2": {"field": "t2"},
            "y2": {"field": "v2"}
          }
        },
        {
          "data": {"name": "labA"},
          "mark": {"type": "text"},
          "encoding": {
            "x": {"field": "t", "type": "quantitative", "axis": null},
            "y": {"field": "v", "type": "quantitative", "axis": null},
            "text": {"field": "label"}
          }
        },
        {
          "data": {"values": [{}]},
          "mark": {"type": "text", "fontSize": 27, "fontWeight": "bold", "color": "#000", "text": "A"},
          "encoding": {"x": {"datum": 1.22, "axis": null}, "y": {"datum": 97, "axis": null}}
        },
        {
          "data": {"values": [{}]},
          "mark": {"type": "text", "angle": 270, "text": "%"},
          "encoding": {"x": {"datum": -0.85, "axis": null}, "y": {"datum": 50, "axis": null}}
        },
        {
          "data": {"values": [{}]},
          "mark": {"type": "text", "align": "right", "lineHeight": 30, "text": ["TOF MS ES+", "TIC", "1.84e4"]},
          "encoding": {"x": {"datum": 32.54, "axis": null}, "y": {"datum": 129.8, "axis": null}}
        },
        {
          "data": {"values": [{}]},
          "mark": {"type": "text", "align": "left", "fontSize": 24, "text": "Time"},
          "encoding": {"x": {"datum": 30.56, "axis": null}, "y": {"datum": -0.6, "axis": null}}
        },
        {
          "data": {"values": [{}]},
          "mark": {"type": "text", "fontSize": 24, "fontWeight": "bold", "color": "#000", "text": "min"},
          "encoding": {"x": {"datum": 33.76, "axis": null}, "y": {"datum": -17.4, "axis": null}}
        }
      ],
      "resolve": {"axis": {"x": "independent", "y": "independent"}}
    }
  ],
  "spacing": 111,
  "bounds": "flush",
  "config": {
    "view": {"stroke": null},
    "text": {"font": "Liberation Sans", "fontSize": 24, "color": "#222", "align": "center", "baseline": "middle"},
    "axis": {"domainColor": "#111", "domainWidth": 3, "tickColor": "#111", "tickWidth": 2, "labelFont": "Liberation Sans", "labelFontSize": 24, "labelColor": "#222", "grid": false}
  }
}
